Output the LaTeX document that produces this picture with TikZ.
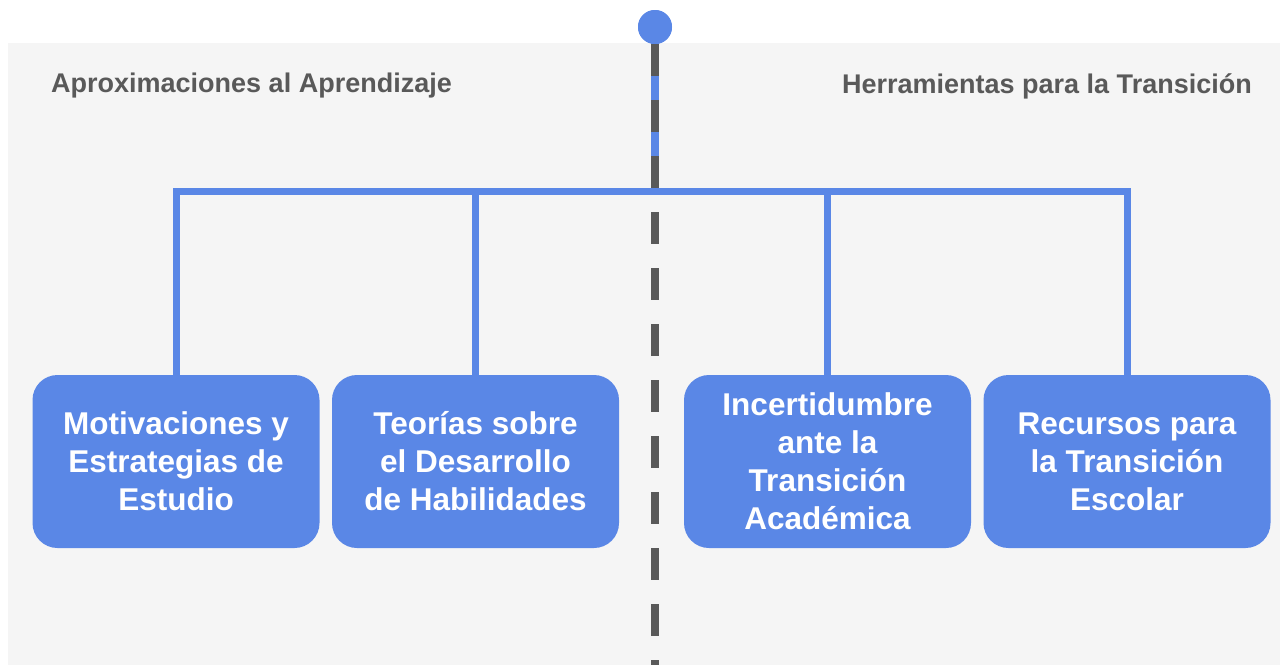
\documentclass[tikz,border=0pt]{standalone}
\usepackage{fontspec}
\setmainfont{Liberation Sans}
\definecolor{boxblue}{HTML}{5A87E6}
\definecolor{linegray}{HTML}{595959}
\definecolor{panelgray}{HTML}{F5F5F5}
\begin{document}
\begin{tikzpicture}[x=1pt,y=-1pt,
    topic/.style={rectangle,rounded corners=25pt,fill=boxblue,text=white,
      font=\bfseries\fontsize{31.5}{38}\selectfont,align=center,
      minimum width=287pt,minimum height=173pt,inner sep=0pt},
    sidelabel/.style={text=linegray,font=\bfseries\fontsize{27}{32}\selectfont,inner sep=0pt}]
      \useasboundingbox (0,0) rectangle (1280,665);
      \fill[panelgray] (8,43) rectangle (1280,665);

      %%%%%%%%%%%%%%%%%%%%%%%%%%%%%%%%%%%%%%%%%%%%%%%%%%%%%%%%%%%%%%%%%%%%%%%%%%%
      %%%%  headings
      \node[sidelabel,anchor=west] (leftside) at (51,86) {Aproximaciones al Aprendizaje};
      \node[sidelabel,anchor=east] (rightside) at (1252,86) {Herramientas para la Transición};

      %%%%%%%%%%%%%%%%%%%%%%%%%%%%%%%%%%%%%%%%%%%%%%%%%%%%%%%%%%%%%%%%%%%%%%%%%%%
      %%%%  boxes
      \node[topic] (motiv) at (176,461.5) {Motivaciones y\\Estrategias de\\Estudio};
      \node[topic] (teorias) at (475.5,461.5) {Teorías sobre\\el Desarrollo\\de Habilidades};
      \node[topic] (incert) at (827.5,461.5) {Incertidumbre\\ante la\\Transición\\Académica};
      \node[topic] (recursos) at (1127,461.5) {Recursos para\\la Transición\\Escolar};

      \node[circle,fill=boxblue,minimum size=34pt,inner sep=0pt] (root) at (655,27) {};
      \coordinate (bus) at (655,191);
      \coordinate (bottom) at (655,665);

      %%%%%%%%%%%%%%%%%%%%%%%%%%%%%%%%%%%%%%%%%%%%%%%%%%%%%%%%%%%%%%%%%%%%%%%%%%%
      %%%%  connectors
      \draw[boxblue,line width=8pt] (root.center) -- (bus);
      \draw[boxblue,line width=7pt,line join=miter] (motiv.north) -- (motiv.north |- bus)
        -- (recursos.north |- bus) -- (recursos.north);
      \foreach \b in {teorias,incert}
       {\draw[boxblue,line width=7pt] (\b.north) -- (\b.north |- bus);};

      \draw[linegray,line width=8pt,dash pattern=on 32pt off 24pt] (root.south) -- (bottom);
      \fill[boxblue] (root) circle (17pt);
    \end{tikzpicture}
\end{document}
